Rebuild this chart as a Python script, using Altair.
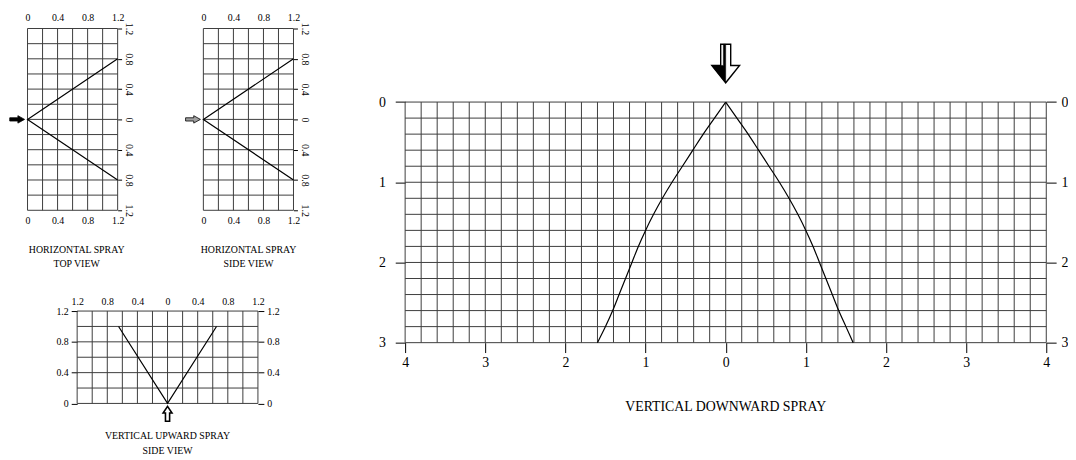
import altair as alt
import pandas as pd
import numpy as np

FONT = "Liberation Serif"
GRID = "#3c3c3c"

# ---------------- data ----------------
# Vertical downward spray (main chart): depth below nozzle vs. half-width of spray
down_depth = [0, 0.2, 0.4, 0.6, 0.8, 1.0, 1.2, 1.4, 1.6, 1.8, 2.0, 2.2, 2.4, 2.6, 2.8, 3.0]
down_left = [0, -0.14, -0.28, -0.41, -0.54, -0.67, -0.79, -0.90, -1.00, -1.09,
             -1.17, -1.25, -1.33, -1.41, -1.50, -1.60]
down_right = [0, 0.14, 0.28, 0.41, 0.54, 0.67, 0.79, 0.90, 1.00, 1.09,
              1.17, 1.25, 1.33, 1.41, 1.50, 1.59]
main_x_ticks = [-4, -3, -2, -1, 0, 1, 2, 3, 4]
main_y_ticks = [0, 1, 2, 3]

# Horizontal spray (top view / side view): spray envelope
hor_reach = [1.2, 0, 1.2]
hor_spread = [0.8, 0, -0.8]
small_x_ticks = [0, 0.4, 0.8, 1.2]
small_y_ticks = [-1.2, -0.8, -0.4, 0, 0.4, 0.8, 1.2]

# Vertical upward spray (side view): spray envelope
up_spread = [-0.65, 0, 0.65]
up_height = [1.0, 0, 1.0]
up_x_ticks = [-1.2, -0.8, -0.4, 0, 0.4, 0.8, 1.2]
up_y_ticks = [0, 0.4, 0.8, 1.2]

# nozzle location (origin of every spray)
nozzle = pd.DataFrame({"nx": [0], "ny": [0]})

# grid lines (every 0.2)
main_grid_x = np.round(np.arange(-4, 4.001, 0.2), 1)
main_grid_y = np.round(np.arange(0, 3.001, 0.2), 1)
hs_grid_x = np.round(np.arange(0, 1.201, 0.2), 1)
hs_grid_y = np.round(np.arange(-1.2, 1.201, 0.2), 1)
up_grid_x = np.round(np.arange(-1.2, 1.201, 0.2), 1)
up_grid_y = np.round(np.arange(0, 1.201, 0.2), 1)

# arrow glyphs (unit square paths)
RIGHT_ARROW = "M-1,-0.22 L0.1,-0.22 L0.1,-0.5 L1,0 L0.1,0.5 L0.1,0.22 L-1,0.22 Z"
UP_ARROW = "M-0.28,1 L-0.28,-0.1 L-0.6,-0.1 L0,-1 L0.6,-0.1 L0.28,-0.1 L0.28,1 Z"
DOWN_ARROW = "M-0.26,-1 L0.26,-1 L0.26,0.1 L0.72,0.1 L0,1 L-0.72,0.1 L-0.26,0.1 Z"
DOWN_SHADE = "M-0.12,-1 L0,-1 L0,1 L-0.72,0.1 L-0.12,0.1 Z"


def axis(orient, values, fmt, size, pad, tick=0, **kw):
    p = dict(orient=orient, values=values,
             labelExpr=f"format(abs(datum.value), '{fmt}')",
             domain=False, grid=False, ticks=tick > 0, tickSize=tick,
             tickColor="black", tickWidth=1, labelFont=FONT, labelFontSize=size,
             labelColor="black", labelPadding=pad, labelFlush=False,
             labelOverlap=False, title=None)
    p.update(kw)
    return alt.Axis(**p)


def vgrid(xs, lo, hi, xsc, ysc, xaxis):
    df = pd.DataFrame({"gx": xs, "lo": lo, "hi": hi})
    return alt.Chart(df).mark_rule(color=GRID, strokeWidth=1).encode(
        x=alt.X("gx:Q", scale=xsc, axis=xaxis),
        y=alt.Y("lo:Q", scale=ysc, axis=None), y2="hi:Q")


def hgrid(ys, lo, hi, xsc, ysc, yaxis):
    df = pd.DataFrame({"gy": ys, "lo": lo, "hi": hi})
    return alt.Chart(df).mark_rule(color=GRID, strokeWidth=1).encode(
        y=alt.Y("gy:Q", scale=ysc, axis=yaxis),
        x=alt.X("lo:Q", scale=xsc, axis=None), x2="hi:Q")


def envelope(xv, yv, xsc, ysc, xaxis, yaxis):
    df = pd.DataFrame({"lx": xv, "ly": yv, "i": list(range(len(xv)))})
    return alt.Chart(df).mark_line(color="black", strokeWidth=1.2).encode(
        x=alt.X("lx:Q", scale=xsc, axis=xaxis),
        y=alt.Y("ly:Q", scale=ysc, axis=yaxis), order="i:Q")


def arrow(path, size, fill, stroke, sw, xsc, ysc, dx=0, dy=0):
    return alt.Chart(nozzle).mark_point(
        shape=path, size=size, filled=True, fill=fill, stroke=stroke,
        strokeWidth=sw, opacity=1, xOffset=dx, yOffset=dy).encode(
        x=alt.X("nx:Q", scale=xsc, axis=None),
        y=alt.Y("ny:Q", scale=ysc, axis=None))


def title(lines, size, offset, dx=0, lh=None):
    return alt.TitleParams(text=lines, orient="bottom", anchor="middle", font=FONT,
                           fontSize=size, fontWeight="normal", color="black",
                           offset=offset, lineHeight=lh or size + 4, dx=dx)


def horizontal_panel(view, fill, dx_title):
    xsc = alt.Scale(domain=[-0.26, 1.2], nice=False, zero=False)
    ysc = alt.Scale(domain=[-1.2, 1.2], nice=False, zero=False)
    top_ax = axis("top", small_x_ticks, ".1~f", 10, 6)
    bot_ax = axis("bottom", small_x_ticks, ".1~f", 10, 5)
    right_ax = axis("right", small_y_ticks, ".1~f", 10, 2, tick=4,
                    labelAngle=90, labelAlign="center", labelBaseline="bottom")
    return alt.layer(
        vgrid(hs_grid_x, -1.2, 1.2, xsc, ysc, top_ax),
        hgrid(hs_grid_y, 0, 1.2, xsc, ysc, right_ax),
        envelope(hor_reach, hor_spread, xsc, ysc, bot_ax, None),
        arrow(RIGHT_ARROW, 225, fill, "black", 0.8, xsc, ysc, dx=-10.5),
    ).resolve_axis(x="independent", y="independent").properties(
        width=111, height=184, title=title(["HORIZONTAL SPRAY", view], 10, 20, dx_title))


tv = horizontal_panel("TOP VIEW", "black", 14)
sv = horizontal_panel("SIDE VIEW", "#a0a0a0", 10)

# upward panel
uxs = alt.Scale(domain=[-1.2, 1.2], nice=False, zero=False)
uys = alt.Scale(domain=[-0.25, 1.2], nice=False, zero=False)
uv = alt.layer(
    vgrid(up_grid_x, 0, 1.2, uxs, uys, axis("top", up_x_ticks, ".1~f", 10, 5)),
    hgrid(up_grid_y, -1.2, 1.2, uxs, uys, axis("left", up_y_ticks, ".1~f", 10, 3, tick=6)),
    envelope(up_spread, up_height, uxs, uys, None,
             axis("right", up_y_ticks, ".1~f", 10, 3, tick=6)),
    arrow(UP_ARROW, 225, "white", "black", 1.6, uxs, uys, dy=10.5),
).resolve_axis(x="independent", y="independent").properties(
    width=183, height=113,
    title=title(["VERTICAL UPWARD SPRAY", "SIDE VIEW"], 10, 7, lh=15))

spacer = alt.Chart(pd.DataFrame({"s": [0]})).mark_point(opacity=0).properties(width=48, height=20)

# main panel
YMIN = -0.917
mxs = alt.Scale(domain=[-4, 4], nice=False, zero=False)
mys = alt.Scale(domain=[YMIN, 3], nice=False, zero=False, reverse=True)
curves_df = pd.DataFrame({
    "lx": down_left + down_right,
    "ly": down_depth + down_depth,
    "side": ["left"] * len(down_left) + ["right"] * len(down_right),
    "i": list(range(len(down_left))) * 2,
})
curves = alt.Chart(curves_df).mark_line(color="black", strokeWidth=1.2,
                                        interpolate="monotone").encode(
    x=alt.X("lx:Q", scale=mxs, axis=axis("bottom", main_x_ticks, "d", 14, 3, tick=10)),
    y=alt.Y("ly:Q", scale=mys, axis=axis("right", main_y_ticks, "d", 14, 5, tick=10)),
    detail="side:N", order="i:Q")

main = alt.layer(
    vgrid(main_grid_x, 0, 3, mxs, mys, None),
    hgrid(main_grid_y, -4, 4, mxs, mys, axis("left", main_y_ticks, "d", 14, 10, tick=10)),
    curves,
    arrow(DOWN_ARROW, 1521, "white", "black", 1.4, mxs, mys, dy=-39),
    arrow(DOWN_SHADE, 1521, "black", "black", 0.5, mxs, mys, dy=-39),
).resolve_axis(x="independent", y="independent").properties(
    width=649, height=318, title=title(["VERTICAL DOWNWARD SPRAY"], 14, 31))

top_row = alt.hconcat(tv, sv, spacing=51)
up_row = alt.hconcat(spacer, uv, spacing=0)
left_col = alt.vconcat(top_row, up_row, spacing=28)
chart = alt.hconcat(left_col, main, spacing=70).properties(
    padding={"left": 0, "top": 2, "right": 0, "bottom": 0}, background="white"
).configure_view(strokeWidth=0)

chart.save("out.html", embed_options={"renderer": "svg", "actions": False})
